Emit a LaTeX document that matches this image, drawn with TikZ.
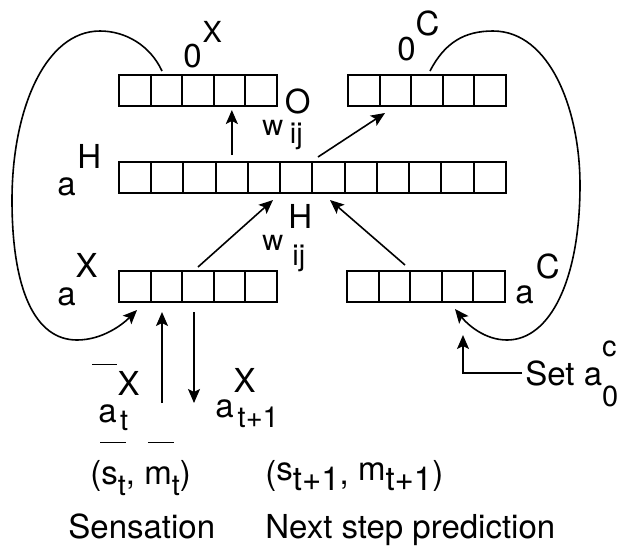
\documentclass[tikz,border=0pt]{standalone}
\usepackage{fontspec}
\setmainfont{TeX Gyre Heros}
\usetikzlibrary{arrows.meta}
\newcommand{\lblbig}{\fontsize{16.5}{18}\selectfont}
\newcommand{\lblmid}{\fontsize{14.5}{16}\selectfont}
\newcommand{\lblsmall}{\fontsize{13}{15}\selectfont}
\tikzset{
  cell/.style={draw, line width=1pt, minimum width=15.8pt, minimum height=15.5pt, inner sep=0pt, outer sep=0pt},
  lbl/.style={anchor=base west, inner sep=0pt, font=\lblbig},
  arr/.style={-{Stealth[length=7pt,width=6pt,inset=1.5pt]}, line width=0.8pt},
}
\begin{document}
\begin{tikzpicture}[x=0.5pt,y=-0.5pt]
\useasboundingbox (0,0) rectangle (628,548);
\foreach \i in {0,...,4} {
  \node[cell] (ox\i) at ({134.8+31.6*\i},90.5) {};
  \node[cell] (oc\i) at ({363.8+31.6*\i},90.5) {};
  \node[cell] (x\i) at ({134.8+31.6*\i},286.5) {};
  \node[cell] (c\i) at ({362.8+31.6*\i},286.5) {};
}
\foreach \i in {0,...,11}
  \node[cell, minimum width=16.125pt] (h\i) at ({135.1+32.25*\i},177.5) {};

\node[lbl] (lx0) at (183,67) {0\kern0.5pt\raisebox{12.5pt}{\lblmid X}};
\node[lbl] (lc0) at (397,60) {0\raisebox{12.5pt}{C}};
\node[lbl] (lwo) at (262,135) {{\lblmid w}\kern0.8pt\rlap{\raisebox{11pt}{O}}\kern2.5pt\raisebox{-4pt}{\lblmid ij}};
\node[lbl] (lah) at (57,195) {a\kern0.8pt\raisebox{13.5pt}{H}};
\node[lbl] (lwh) at (262,250) {{\lblmid w}\kern2.5pt\rlap{\raisebox{11pt}{H}}\kern2pt\raisebox{-7.5pt}{\lblmid ij}};
\node[lbl] (lax) at (57,305) {a\raisebox{14pt}{X}};
\node[lbl] (lac) at (515,303) {a\kern1pt\raisebox{12.5pt}{C}};
\node[lbl] (lat) at (98,422) {\rlap{\kern-3pt\raisebox{28.5pt}{\rule{12.5pt}{0.7pt}}}a\kern0.5pt\rlap{\raisebox{13.5pt}{X}}\kern1.25pt\raisebox{-4pt}{\lblmid t}};
\node[lbl] (lat1) at (215,417) {a\rlap{\raisebox{12.5pt}{X}}\kern2pt\raisebox{-5pt}{\lblmid t+1}};
\node[lbl] (set) at (525,385) {Set a\rlap{\raisebox{14.5pt}{\lblmid c}}\raisebox{-10.5pt}{\lblmid 0}};
\node[lbl] (sm) at (90,484) {(\rlap{\kern-0.5pt\raisebox{20.5pt}{\rule{13pt}{0.7pt}}}s\raisebox{-5.5pt}{\lblmid t}, \rlap{\kern1.75pt\raisebox{20.5pt}{\rule{13pt}{0.7pt}}}m\raisebox{-5.5pt}{\lblmid t})};
\node[lbl] (sm1) at (265,484) {(\raisebox{2pt}{s}\raisebox{-3pt}{t+1}, \raisebox{2pt}{m}\raisebox{-3pt}{t+1})};
\node[lbl] (sens) at (68,538) {Sensation};
\node[lbl] (pred) at (265,538) {Next step prediction};

\draw[arr, shorten <=3.5pt, shorten >=2pt] (h3.north) -- (h3.north |- ox3.south);
\draw[arr] ([xshift=2.75pt,yshift=2.5pt]h6.north west) -- ([xshift=2.7pt,yshift=-3.5pt]oc1.south west);
\draw[arr] ([yshift=2pt]x2.north) -- ([xshift=4.45pt,yshift=-3.5pt]h4.south);
\draw[arr] ([xshift=5.3pt,yshift=3pt]c1.north) -- ([xshift=0.7pt,yshift=-3.5pt]h6.south);

\draw[arr] ([xshift=-2.2pt,yshift=2pt]ox1.north) .. controls (150,45) and (125,31) .. (100,31)
  .. controls (45,31) and (12,110) .. (12,200)
  .. controls (12,290) and (35,340) .. (77,340)
  .. controls (102,340) and (122,325) .. ([xshift=1.1pt,yshift=-4pt]x0.south);
\draw[arr] ([xshift=1.5pt,yshift=2pt]oc2.north) .. controls (445,42) and (465,31) .. (493,31)
  .. controls (550,31) and (580,110) .. (580,185)
  .. controls (580,280) and (550,340) .. (507,340)
  .. controls (485,340) and (468,325) .. ([xshift=-1.3pt,yshift=-3.5pt]c3.south);

\coordinate (atin) at (162,403);
\coordinate (atout) at (194,403);
\draw[arr, shorten >=5pt] (atin) -- (atin |- x1.south);
\draw[arr, shorten <=5pt] (atout |- x2.south) -- (atout);
\draw[arr] ([xshift=-1.5pt,yshift=6pt]set.base west) -| ([xshift=2.7pt,yshift=-16.5pt]c3.south);
\end{tikzpicture}
\end{document}
